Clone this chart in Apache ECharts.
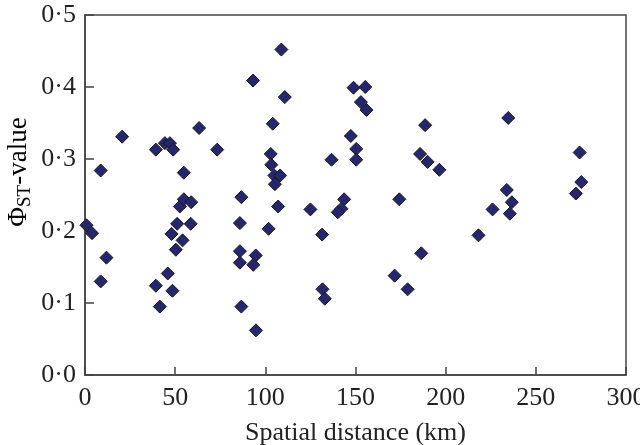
<!DOCTYPE html>
<html>
<head>
<meta charset="utf-8">
<script src="https://cdn.jsdelivr.net/npm/echarts@6/dist/echarts.min.js"></script>
<style>html,body{margin:0;padding:0;background:#fff}#c{width:640px;height:445px}</style>
</head>
<body>
<div id="c"></div>
<script>
// Spatial distance (km)
var distances = [0.8, 3.9, 8.7, 11.9, 8.7, 20.6, 39.3, 44.3, 47.1, 48.9, 63.3, 73.3, 54.8, 93.2, 86.7,
  39.3, 41.5, 45.9, 48.5, 48.0, 51.1, 54.1, 50.4, 52.6, 54.8, 58.9, 58.6, 85.9, 85.9, 85.9, 86.7,
  94.7, 93.3, 94.8, 101.8, 108.9, 110.8, 148.9, 155.4, 153.0, 156.1, 104.1, 188.6, 147.4, 150.4,
  150.4, 136.7, 103.0, 103.3, 105.0, 108.2, 105.3, 185.8, 190.0, 196.5, 107.1, 125.0, 143.7,
  142.2, 140.2, 131.5, 174.3, 186.5, 171.7, 178.9, 131.7, 133.0, 233.9, 236.7, 235.6, 226.0,
  218.2, 275.2, 272.2, 234.7, 274.3];
// PhiST values
var phiValues = [0.208, 0.197, 0.284, 0.163, 0.130, 0.331, 0.313, 0.322, 0.322, 0.313, 0.343, 0.313, 0.281, 0.409, 0.247,
  0.124, 0.095, 0.141, 0.117, 0.196, 0.210, 0.187, 0.174, 0.234, 0.244, 0.240, 0.210, 0.211, 0.172, 0.156, 0.095,
  0.166, 0.153, 0.062, 0.203, 0.452, 0.386, 0.399, 0.400, 0.379, 0.368, 0.349, 0.347, 0.332, 0.314,
  0.299, 0.299, 0.307, 0.292, 0.277, 0.277, 0.265, 0.307, 0.296, 0.285, 0.234, 0.230, 0.244,
  0.231, 0.226, 0.195, 0.244, 0.169, 0.138, 0.119, 0.119, 0.106, 0.257, 0.240, 0.224, 0.230,
  0.194, 0.268, 0.252, 0.357, 0.309];
var xTickLabels = ['0', '50', '100', '150', '200', '250', '300'];
var yTickLabels = ['0·0', '0·1', '0·2', '0·3', '0·4', '0·5'];

var points = distances.map(function (d, i) { return [d, phiValues[i]]; });
var font = 'Liberation Serif';
var chart = echarts.init(document.getElementById('c'));
chart.setOption({
  animation: false,
  grid: { left: 85, right: 14, top: 15, bottom: 70, containLabel: false, outerBoundsMode: 'none',
    show: true, borderColor: '#444', borderWidth: 1.5 },
  xAxis: {
    type: 'value', min: 0, max: 300, interval: 50,
    axisLine: { show: true, lineStyle: { color: '#444', width: 1.5 } },
    axisTick: { show: true, inside: true, length: 8, lineStyle: { color: '#444', width: 1.5 } },
    splitLine: { show: false },
    axisLabel: { fontFamily: font, fontSize: 26, color: '#222', margin: 10,
      formatter: function (v) { return xTickLabels[Math.round(v / 50)]; } },
    name: 'Spatial distance (km)', nameLocation: 'middle', nameGap: 45,
    nameTextStyle: { fontFamily: font, fontSize: 26, color: '#222' }
  },
  yAxis: {
    type: 'value', min: 0, max: 0.5, interval: 0.1,
    axisLine: { show: true, lineStyle: { color: '#444', width: 1.5 } },
    axisTick: { show: true, inside: true, length: 9, lineStyle: { color: '#444', width: 1.5 } },
    splitLine: { show: false },
    axisLabel: { fontFamily: font, fontSize: 26, color: '#222', margin: 9,
      formatter: function (v) { return yTickLabels[Math.round(v * 10)]; } }
  },
  graphic: [{
    type: 'text', x: 19, y: 172, rotation: Math.PI / 2,
    style: {
      text: '{a|Φ}{s|ST}{a|-value}',
      align: 'center', verticalAlign: 'middle',
      rich: {
        a: { fontFamily: font, fontSize: 27, color: '#222', lineHeight: 32, verticalAlign: 'middle' },
        s: { fontFamily: font, fontSize: 19, color: '#222', lineHeight: 18, verticalAlign: 'bottom' }
      }
    }
  }],
  series: [{
    type: 'scatter', data: points, symbol: 'diamond', symbolSize: 13,
    itemStyle: { color: '#26266f', borderColor: '#1a1a1a', borderWidth: 1, opacity: 1 }
  }]
});
</script>
</body>
</html>
